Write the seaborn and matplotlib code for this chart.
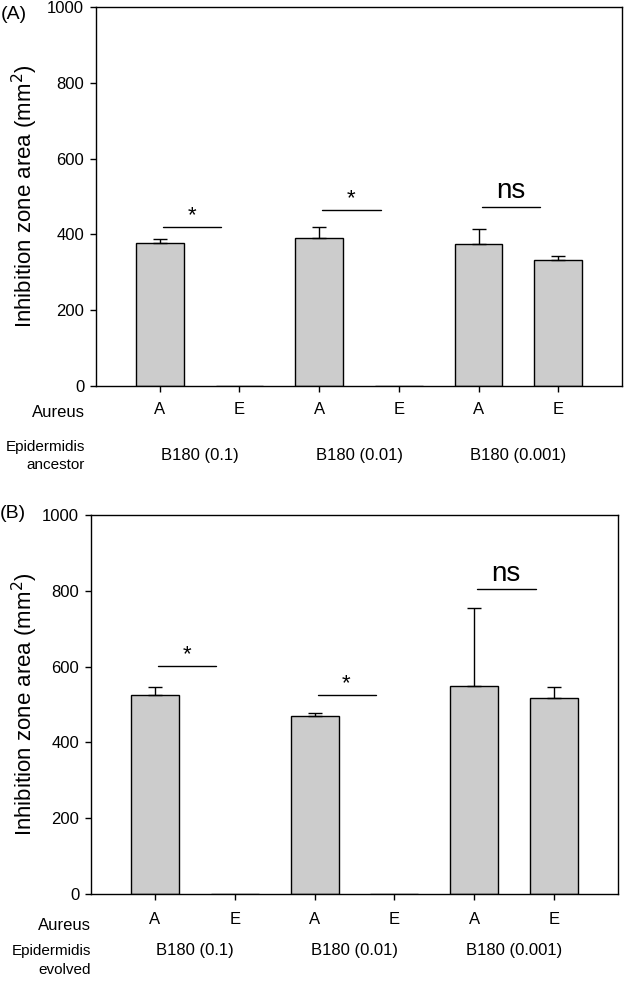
import matplotlib
matplotlib.use('Agg')
import matplotlib.pyplot as plt
import pandas as pd
import seaborn as sns

# values (mm^2)
groups = ['B180 (0.1)', 'B180 (0.01)', 'B180 (0.001)']
aureus = ['A', 'E', 'A', 'E', 'A', 'E']
ancestor_mean = [377, 0, 390, 0, 374, 332]
ancestor_err = [11, 0, 30, 0, 41, 12]
evolved_mean = [524, 0, 470, 0, 549, 517]
evolved_err = [21, 0, 7, 0, 205, 29]
ancestor_sig_y = [420, 465, 473]
evolved_sig_y = [601, 526, 804]
sig_text = ['*', '*', 'ns']

sns.set_theme(style='ticks')
plt.rcParams['font.family'] = ['Liberation Sans', 'DejaVu Sans']
plt.rcParams['axes.linewidth'] = 1.0
plt.rcParams['xtick.major.width'] = 1.0
plt.rcParams['ytick.major.width'] = 1.0
for k in ['text.color', 'axes.labelcolor', 'axes.edgecolor', 'xtick.color', 'ytick.color']:
    plt.rcParams[k] = 'black'


def draw_panel(ax, means, errs, sig_y, panel, panel_y, strain_word, rows, tick_pad, lab_x):
    cond = [f'{a} {g}' for g in groups for a in ['A', 'E']]
    df = pd.DataFrame({'cond': cond, 'value': means})
    sns.barplot(data=df, x='cond', y='value', order=cond, color='#cccccc',
                edgecolor='black', linewidth=1.0, width=0.6, saturation=1,
                errorbar=None, ax=ax)
    idx = [i for i, m in enumerate(means) if m > 0]
    ax.errorbar(idx, [means[i] for i in idx],
                yerr=[[0] * len(idx), [errs[i] for i in idx]],
                fmt='none', ecolor='black', elinewidth=1.0, capsize=5, capthick=1.0)

    # significance bars
    for k, (y, t) in enumerate(zip(sig_y, sig_text)):
        x0 = 2 * k
        ax.plot([x0 + 0.04, x0 + 0.77], [y, y], color='black', lw=1.0)
        if t == '*':
            ax.text(x0 + 0.4, y + 2, t, ha='center', va='bottom', fontsize=16)
        else:
            ax.text(x0 + 0.4, y + 6, t, ha='center', va='bottom', fontsize=20)

    ax.set_xlim(-0.8, 5.8)
    ax.set_ylim(0, 1000)
    ax.set_yticks(range(0, 1001, 200))
    ax.set_xticks(range(6))
    ax.set_xticklabels(aureus)
    ax.tick_params(axis='x', labelsize=12, length=4.5, pad=tick_pad)
    ax.tick_params(axis='y', labelsize=12, length=4.5, pad=4)
    ax.set_xlabel('')
    ax.set_ylabel('Inhibition zone area (mm$^2$)', fontsize=16)
    ax.yaxis.set_label_coords(lab_x, 0.5)
    for s in ax.spines.values():
        s.set_visible(True)

    trans = ax.get_xaxis_transform()
    for k, g in enumerate(groups):
        ax.text(2 * k + 0.5, rows['group'], g, transform=trans,
                ha='center', va='center', fontsize=12)
    ax.text(rows['x'], rows['aureus'], 'Aureus', transform=ax.transAxes,
            ha='right', va='center', fontsize=12)
    ax.text(rows['x'], rows['epi'], 'Epidermidis', transform=ax.transAxes,
            ha='right', va='center', fontsize=11)
    ax.text(rows['x'], rows['strain'], strain_word, transform=ax.transAxes,
            ha='right', va='center', fontsize=11)
    ax.text(rows['panel_x'], panel_y, panel, transform=ax.transAxes,
            ha='left', va='center', fontsize=14)


fig = plt.figure(figsize=(6.25, 9.83), dpi=100)
ax1 = fig.add_axes([0.1536, 0.6073, 0.8416, 0.3856])
ax2 = fig.add_axes([0.1456, 0.0905, 0.8432, 0.3856])

draw_panel(ax1, ancestor_mean, ancestor_err, ancestor_sig_y, '(A)', 0.981, 'ancestor',
           {'x': -0.021, 'aureus': -0.0686, 'group': -0.182, 'epi': -0.161,
            'strain': -0.208, 'panel_x': -0.182},
           tick_pad=7, lab_x=-0.107)
draw_panel(ax2, evolved_mean, evolved_err, evolved_sig_y, '(B)', 1.005, 'evolved',
           {'x': 0.0, 'aureus': -0.0818, 'group': -0.148, 'epi': -0.150,
            'strain': -0.2005, 'panel_x': -0.173},
           tick_pad=8.5, lab_x=-0.097)

fig.savefig('out.png', dpi=100)
plt.close(fig)
